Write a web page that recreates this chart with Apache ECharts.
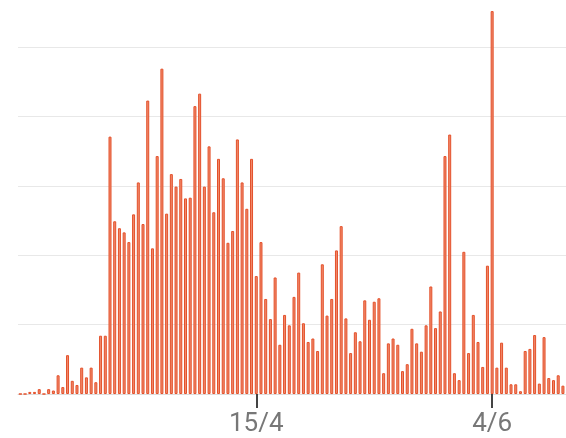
<!DOCTYPE html>
<html>
<head>
    <meta charset="UTF-8" />
    <title>Daily bars</title>
    <script src="https://cdn.jsdelivr.net/npm/echarts@6/dist/echarts.min.js"></script>
    <style>
        html, body { margin: 0; padding: 0; background: #fff; overflow: hidden; }
        /* a little wider than the window: the last bar is cut at the right edge */
        #chart { width: 570px; height: 438px; }
    </style>
</head>
<body>
    <div id="chart"></div>
    <script type="text/javascript">
        // first day shown on the axis, one bar per day
        var startDate = [2020, 1, 25];
        // labels that are shown under the axis
        var tickLabels = ['15/4', '4/6'];
        // daily values
        var values = [
            0, 0, 3, 3, 7, 0, 7, 5, 27, 10,
            56, 19, 13, 38, 24, 38, 17, 84, 84, 371,
            249, 239, 233, 219, 259, 305, 245, 423, 210, 343,
            469, 260, 317, 299, 310, 282, 283, 415, 433, 299,
            357, 262, 339, 311, 218, 235, 367, 305, 267, 339,
            170, 219, 137, 108, 168, 71, 114, 99, 140, 175,
            102, 75, 80, 62, 187, 113, 137, 207, 242, 109,
            59, 89, 76, 135, 107, 133, 138, 30, 73, 80,
            71, 33, 43, 94, 73, 61, 99, 155, 95, 119,
            343, 374, 30, 20, 205, 59, 114, 75, 39, 185,
            552, 38, 74, 38, 14, 14, 4, 62, 65, 85,
            15, 82, 23, 20, 27, 12, 42
        ];

        // day labels d/m
        var days = [];
        for (var i = 0; i < values.length; i++) {
            var d = new Date(startDate[0], startDate[1], startDate[2] + i);
            days.push(d.getDate() + '/' + (d.getMonth() + 1));
        }

        function showTick(index, value) {
            return tickLabels.indexOf(value) >= 0;
        }

        var myChart = echarts.init(document.getElementById('chart'), null, { renderer: 'canvas' });
        var option = {
            animation: false,
            grid: {
                left: 18,
                right: 0,
                top: 0,
                bottom: 44
            },
            xAxis: {
                type: 'category',
                data: days,
                boundaryGap: true,
                axisLine: { lineStyle: { color: '#dcdcdc', width: 1 } },
                axisTick: {
                    show: true,
                    alignWithLabel: true,
                    length: 14,
                    lineStyle: { color: '#444', width: 2 }
                },
                axisLabel: {
                    interval: showTick,
                    margin: 17,
                    fontSize: 26,
                    color: '#777',
                    fontFamily: 'Roboto'
                },
                splitLine: { show: false }
            },
            yAxis: {
                type: 'value',
                min: 0,
                max: 568,
                interval: 100,
                axisLabel: { show: false },
                axisLine: { show: false },
                axisTick: { show: false },
                splitLine: {
                    showMaxLine: false,
                    lineStyle: { color: '#e8e8e8', width: 1 }
                }
            },
            series: [{
                type: 'bar',
                data: values,
                barWidth: 3,
                itemStyle: {
                    color: '#f08a6c',
                    borderColor: '#e4502a',
                    borderWidth: 1
                }
            }]
        };
        myChart.setOption(option);
    </script>
</body>
</html>
